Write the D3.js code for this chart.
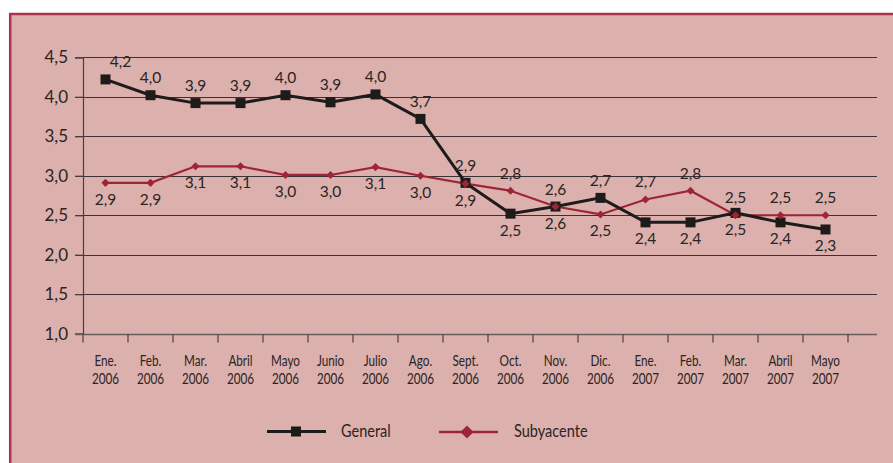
<!DOCTYPE html>
<html>
<head>
<meta charset="utf-8">
<script src="https://cdn.jsdelivr.net/npm/d3@7"></script>
<style>
  body { margin: 0; background: #fff; }
  svg { display: block; }
</style>
</head>
<body>
<div id="chart"></div>
<script>
// months on the x axis (two lines each)
const months = ["Ene.", "Feb.", "Mar.", "Abril", "Mayo", "Junio", "Julio", "Ago.", "Sept.",
  "Oct.", "Nov.", "Dic.", "Ene.", "Feb.", "Mar.", "Abril", "Mayo"];
const years = ["2006", "2006", "2006", "2006", "2006", "2006", "2006", "2006", "2006",
  "2006", "2006", "2006", "2007", "2007", "2007", "2007", "2007"];

// series values
const general = [4.22, 4.02, 3.92, 3.92, 4.02, 3.93, 4.03, 3.72, 2.91, 2.52, 2.61, 2.72, 2.41, 2.41, 2.53, 2.41, 2.32];
const subyacente = [2.91, 2.91, 3.12, 3.12, 3.01, 3.01, 3.11, 3.00, 2.90, 2.81, 2.61, 2.51, 2.70, 2.81, 2.50, 2.50, 2.50];

// label text shown next to each point
const generalLabels = ["4,2", "4,0", "3,9", "3,9", "4,0", "3,9", "4,0", "3,7", "2,9", "2,5", "2,6", "2,7", "2,4", "2,4", "2,5", "2,4", "2,3"];
const subyacenteLabels = ["2,9", "2,9", "3,1", "3,1", "3,0", "3,0", "3,1", "3,0", "2,9", "2,8", "2,6", "2,5", "2,7", "2,8", "2,5", "2,5", "2,5"];

const yTicks = [1.0, 1.5, 2.0, 2.5, 3.0, 3.5, 4.0, 4.5];

const W = 893, H = 463;
const font = "Lato, 'Open Sans', sans-serif";

const svg = d3.select("#chart").append("svg")
  .attr("width", W)
  .attr("height", H);

// pink panel + crimson border top/left
svg.append("rect")
  .attr("x", 10).attr("y", 13)
  .attr("width", W - 10).attr("height", H - 13)
  .attr("fill", "#dcb0ac");
svg.append("line")
  .attr("x1", 9).attr("x2", W).attr("y1", 14).attr("y2", 14)
  .attr("stroke", "#a8344a").attr("stroke-width", 2.5);
svg.append("line")
  .attr("x1", 10.2).attr("x2", 10.2).attr("y1", 13).attr("y2", H)
  .attr("stroke", "#a8344a").attr("stroke-width", 2.5);

const left = 83, right = 877, bandRight = 848;

const x = d3.scaleBand()
  .domain(d3.range(months.length))
  .range([left, bandRight]);

const y = d3.scaleLinear()
  .domain([1.0, 4.5])
  .range([333.7, 57.3]);

// horizontal gridlines
svg.append("g")
  .selectAll("line")
  .data(yTicks.slice(1))
  .enter().append("line")
    .attr("x1", left - 8)
    .attr("x2", right)
    .attr("y1", d => Math.round(y(d)) + 0.5)
    .attr("y2", d => Math.round(y(d)) + 0.5)
    .attr("stroke", "#3b3333")
    .attr("stroke-width", 1.2);

// y axis
const yAxis = svg.append("g")
  .attr("transform", "translate(" + left + ",0)")
  .call(d3.axisLeft(y).tickValues(yTicks).tickSize(8).tickPadding(7)
    .tickFormat(d => d3.format(".1f")(d).replace(".", ",")));
yAxis.select(".domain").attr("stroke", "#4a4040").attr("stroke-width", 1.2);
yAxis.selectAll(".tick line").attr("stroke", "#4a4040").attr("stroke-width", 1.2);
yAxis.selectAll("text")
  .attr("fill", "#2a2424")
  .style("font-family", font)
  .style("font-size", "17px");

// x axis line + ticks at band edges
const xAxisY = Math.round(y(1.0)) + 0.5;
svg.append("line")
  .attr("x1", left - 8).attr("x2", right)
  .attr("y1", xAxisY).attr("y2", xAxisY)
  .attr("stroke", "#6b5c5c").attr("stroke-width", 1.5);
svg.append("g")
  .selectAll("line")
  .data(d3.range(months.length + 1))
  .enter().append("line")
    .attr("x1", d => left + d * x.step())
    .attr("x2", d => left + d * x.step())
    .attr("y1", xAxisY)
    .attr("y2", xAxisY + 8)
    .attr("stroke", "#4a4040")
    .attr("stroke-width", 1.2);

// x labels (condensed look)
const xl = svg.append("g").selectAll("g")
  .data(months)
  .enter().append("g")
    .attr("transform", (d, i) => "translate(" + (x(i) + x.bandwidth() / 2) + ",0) scale(0.78,1)");
xl.append("text")
  .attr("y", 366)
  .attr("text-anchor", "middle")
  .attr("fill", "#2a2424")
  .style("font-family", font)
  .style("font-size", "15px")
  .text(d => d);
xl.append("text")
  .attr("y", 384)
  .attr("text-anchor", "middle")
  .attr("fill", "#2a2424")
  .style("font-family", font)
  .style("font-size", "15px")
  .text((d, i) => years[i]);

const cx = i => x(i) + x.bandwidth() / 2;

const line = d3.line()
  .x((d, i) => cx(i))
  .y(d => y(d));

// subyacente line
svg.append("path")
  .datum(subyacente)
  .attr("fill", "none")
  .attr("stroke", "#9e2538")
  .attr("stroke-width", 2.2)
  .attr("d", line);

// general line
svg.append("path")
  .datum(general)
  .attr("fill", "none")
  .attr("stroke", "#1e1b1b")
  .attr("stroke-width", 3)
  .attr("d", line);

svg.append("g").selectAll("rect")
  .data(general)
  .enter().append("rect")
    .attr("x", (d, i) => cx(i) - 5)
    .attr("y", d => y(d) - 5)
    .attr("width", 10)
    .attr("height", 10)
    .attr("fill", "#1e1b1b");

const diamond = d3.symbol().type(d3.symbolDiamond2).size(42);
svg.append("g").selectAll("path")
  .data(subyacente)
  .enter().append("path")
    .attr("transform", (d, i) => "translate(" + cx(i) + "," + y(d) + ")")
    .attr("d", diamond)
    .attr("fill", "#9e2538");

// labels: general above until Sept, then mostly below; subyacente the opposite
const genAbove = [1, 1, 1, 1, 1, 1, 1, 1, 1, 0, 1, 1, 0, 0, 0, 0, 0];

function addLabels(values, labels, aboveFn) {
  svg.append("g").selectAll("text")
    .data(values)
    .enter().append("text")
      .attr("x", (d, i) => cx(i) + (i === 0 && aboveFn(i) ? 15 : 0))
      .attr("y", (d, i) => aboveFn(i) ? y(d) - 12 : y(d) + 22)
      .attr("text-anchor", "middle")
      .attr("fill", "#2a2424")
      .style("font-family", font)
      .style("font-size", "15.5px")
      .text((d, i) => labels[i]);
}
addLabels(general, generalLabels, i => genAbove[i] === 1);
addLabels(subyacente, subyacenteLabels, i => i > 8 ? genAbove[i] === 0 : false);

// legend
const lg = svg.append("g");
lg.append("line")
  .attr("x1", 267).attr("x2", 326).attr("y1", 431.5).attr("y2", 431.5)
  .attr("stroke", "#1e1b1b").attr("stroke-width", 3);
lg.append("rect")
  .attr("x", 291).attr("y", 426.5).attr("width", 10).attr("height", 10)
  .attr("fill", "#1e1b1b");
lg.append("text")
  .attr("x", 341).attr("y", 437.5)
  .attr("fill", "#2a2424")
  .style("font-family", font)
  .style("font-size", "16.5px")
  .attr("transform", "translate(341,0) scale(0.88,1) translate(-341,0)")
  .text("General");
lg.append("line")
  .attr("x1", 439).attr("x2", 498).attr("y1", 432).attr("y2", 432)
  .attr("stroke", "#9e2538").attr("stroke-width", 2.5);
lg.append("path")
  .attr("transform", "translate(467,432)")
  .attr("d", d3.symbol().type(d3.symbolDiamond2).size(110))
  .attr("fill", "#9e2538");
lg.append("text")
  .attr("x", 514).attr("y", 437.5)
  .attr("fill", "#2a2424")
  .style("font-family", font)
  .style("font-size", "16.5px")
  .attr("transform", "translate(514,0) scale(0.88,1) translate(-514,0)")
  .text("Subyacente");
</script>
</body>
</html>
